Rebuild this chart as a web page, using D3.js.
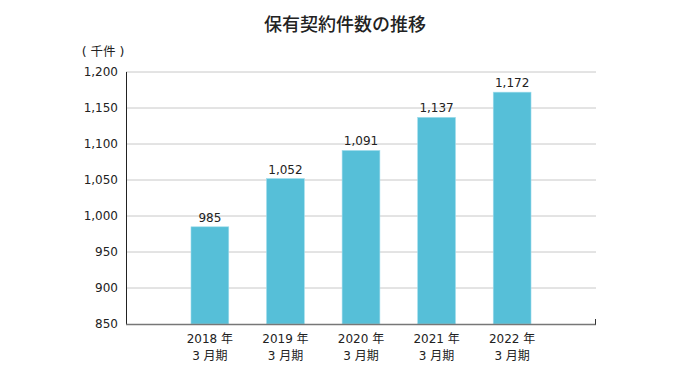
<!DOCTYPE html>
<html><head><meta charset="utf-8">
<script src="https://cdn.jsdelivr.net/npm/d3@7"></script>
<style>body{margin:0;background:#fff;}svg{display:block;font-family:"DejaVu Sans","Noto Sans CJK JP",sans-serif;}</style>
</head><body><svg id="c" width="690" height="382"></svg>
<script>
const categories = ["2018 年|3 月期","2019 年|3 月期","2020 年|3 月期","2021 年|3 月期","2022 年|3 月期"];
const values = [985, 1052, 1091, 1137, 1172];
const yTicks = [850, 900, 950, 1000, 1050, 1100, 1150, 1200];
const title = "保有契約件数の推移";
const unit = "( 千件 )";

const svg = d3.select("#c");
const L = 126, R = 596, T = 72, B = 324;
const x = d3.scaleBand().domain(categories).range([L, R]).paddingInner(0.5).paddingOuter(0.86);
const y = d3.scaleLinear().domain([850, 1200]).range([B, T]);
const fmt = d3.format(",");

svg.append("text").attr("x", 345).attr("y", 31).attr("text-anchor", "middle")
  .attr("font-family", "Noto Sans CJK JP").attr("font-size", 18).attr("font-weight", 500).attr("fill", "#222").text(title);
svg.append("text").attr("x", 103).attr("y", 56).attr("text-anchor", "middle")
  .attr("font-size", 12.5).attr("fill", "#222").text(unit);

// gridlines
svg.append("g").selectAll("line").data(yTicks.filter(d => d > 850)).join("line")
  .attr("x1", L).attr("x2", R).attr("y1", d => y(d)).attr("y2", d => y(d))
  .attr("stroke", "#c8c8c8").attr("stroke-width", 1);

// y tick labels
svg.append("g").selectAll("text").data(yTicks).join("text")
  .attr("x", 118).attr("y", d => y(d)).attr("dy", "0.35em").attr("text-anchor", "end")
  .attr("font-size", 12).attr("fill", "#222").text(d => fmt(d));

// bars
svg.append("g").selectAll("rect").data(values).join("rect")
  .attr("x", (d, i) => x(categories[i])).attr("width", x.bandwidth())
  .attr("y", d => y(d)).attr("height", d => B - y(d))
  .attr("fill", "#56bfd8").attr("stroke", "#9fdcec").attr("stroke-width", 0.6);

// value labels
svg.append("g").selectAll("text").data(values).join("text")
  .attr("x", (d, i) => x(categories[i]) + x.bandwidth() / 2).attr("y", d => y(d) - 5)
  .attr("text-anchor", "middle").attr("font-size", 12).attr("fill", "#222").text(d => fmt(d));

// axes lines
svg.append("line").attr("x1", L + 0.5).attr("x2", L + 0.5).attr("y1", T).attr("y2", B)
  .attr("stroke", "#222").attr("stroke-width", 1);
svg.append("line").attr("x1", L).attr("x2", R).attr("y1", B + 0.5).attr("y2", B + 0.5)
  .attr("stroke", "#777").attr("stroke-width", 1.5);
svg.append("line").attr("x1", R - 0.5).attr("x2", R - 0.5).attr("y1", B - 5).attr("y2", B + 0.5)
  .attr("stroke", "#333").attr("stroke-width", 1);

// x labels
const xl = svg.append("g").selectAll("text").data(categories).join("text")
  .attr("text-anchor", "middle").attr("font-size", 12).attr("fill", "#222");
xl.each(function(d) {
  const parts = d.split("|");
  const cx = x(d) + x.bandwidth() / 2;
  d3.select(this).selectAll("tspan").data(parts).join("tspan")
    .attr("x", cx).attr("y", (p, i) => 343 + i * 17).text(p => p);
});
</script></body></html>
